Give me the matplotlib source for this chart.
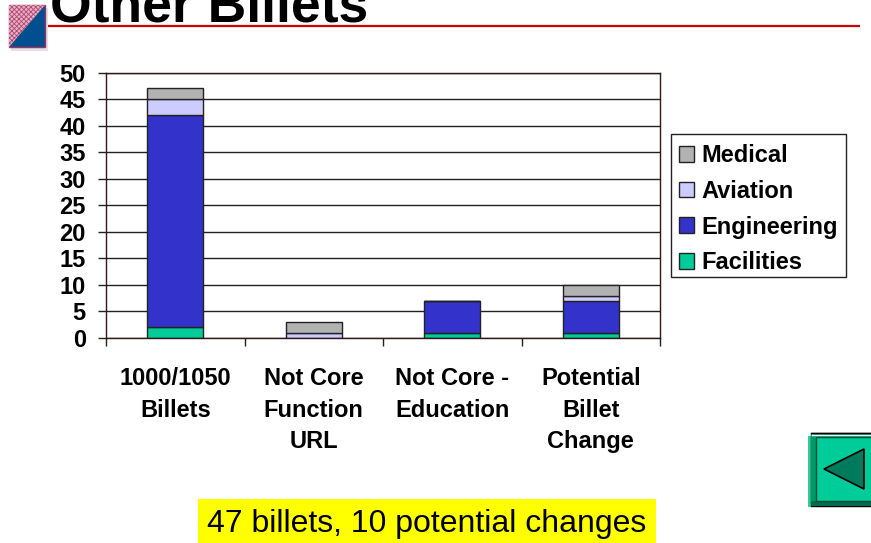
import matplotlib
matplotlib.use('Agg')
import matplotlib.pyplot as plt
from matplotlib.patches import Polygon, Rectangle

plt.rcParams['font.family'] = ['Liberation Sans', 'DejaVu Sans']
plt.rcParams['hatch.linewidth'] = 0.6

W, H = 871, 543

categories = ['1000/1050\nBillets', 'Not Core\nFunction\nURL', 'Not Core -\nEducation', 'Potential\nBillet\nChange']
facilities = [2, 0, 1, 1]
engineering = [40, 0, 6, 6]
aviation = [3, 1, 0, 1]
medical = [2, 2, 0, 2]
series_names = ['Facilities', 'Engineering', 'Aviation', 'Medical']
series_colors = ['#00cc99', '#3333cc', '#ccccff', '#b2b2b2']
y_ticks = list(range(0, 55, 5))

fig = plt.figure(figsize=(W / 100, H / 100), dpi=100)

# full page layer in pixel coordinates for the slide decoration
page = fig.add_axes([0, 0, 1, 1])
page.set_xlim(0, W)
page.set_ylim(H, 0)
page.axis('off')

# title and red rule
page.text(50, 22, 'Other Billets', fontsize=38.5, fontweight='bold', color='black', va='baseline', ha='left')
page.plot([48, 860], [25.5, 25.5], color='#cc0000', lw=1.6, solid_capstyle='butt')

# corner icon
page.add_patch(Rectangle((11, 8), 37, 43, color='#e6e0e6', lw=0))
page.add_patch(Rectangle((9, 5), 36, 42, facecolor='#005090', edgecolor='#a03060', lw=1))
page.add_patch(Polygon([(9, 5), (45, 5), (9, 47)], facecolor='#e8b0c4', edgecolor='#b04870', hatch='xxxxxxx', lw=0))

# back button
page.add_patch(Rectangle((808, 436), 63, 71, color='#33cc99', lw=0))
page.add_patch(Rectangle((811, 433), 60, 73, facecolor='#00cc99', edgecolor='black', lw=1))
page.add_patch(Polygon([(811, 433), (871, 433), (871, 437), (816, 437), (816, 501), (811, 506)], facecolor='#009966', edgecolor='none'))
page.plot([812, 871], [434.5, 434.5], color='white', lw=1)
page.plot([811, 871], [433, 433], color='black', lw=1)
page.add_patch(Rectangle((811, 501), 60, 5, facecolor='#006b50', edgecolor='none'))
page.add_patch(Rectangle((816, 437), 56, 64, facecolor='#00cc99', edgecolor='#004d33', lw=1))
page.add_patch(Polygon([(824, 469), (864, 449), (864, 489)], facecolor='#007a5c', edgecolor='black', lw=1.2))

# yellow note
page.add_patch(Rectangle((198, 499), 458, 44, color='#ffff00', lw=0))
page.text(427, 524, '47 billets, 10 potential changes', fontsize=23, ha='center', va='center', color='black')

# legend box
page.add_patch(Rectangle((671, 134), 175, 143, facecolor='white', edgecolor='#222222', lw=1))

# chart
ax = fig.add_axes([106 / W, 1 - 338 / H, (660 - 106) / W, (338 - 72.5) / H])
ax.patch.set_alpha(0)
ax.set_xlim(-0.5, 3.5)
ax.set_ylim(0, 50)
ax.set_axisbelow(True)
ax.yaxis.grid(True, color='#222222', lw=1)

x = list(range(len(categories)))
bottom = [0] * len(categories)
for vals, name, col in zip([facilities, engineering, aviation, medical], series_names, series_colors):
    ax.bar(x, vals, width=0.404, bottom=bottom, color=col, edgecolor='#222222', lw=1, label=name)
    bottom = [b + v for b, v in zip(bottom, vals)]

for s in ax.spines.values():
    s.set_color('#301818')
    s.set_linewidth(1)

ax.set_yticks(y_ticks)
ax.set_yticklabels([str(t) for t in y_ticks], fontsize=17, fontweight='bold')
ax.tick_params(axis='y', length=6, width=1, color='#222222', pad=8.5)

ax.set_xticks([i - 0.5 for i in range(len(categories) + 1)])
ax.set_xticklabels([])
ax.tick_params(axis='x', which='major', length=6, width=1, color='#222222')
ax.set_xticks(x, minor=True)
ax.set_xticklabels(categories, minor=True, fontsize=17, fontweight='bold', linespacing=1.475)
ax.tick_params(axis='x', which='minor', length=0, pad=21)

handles, labels = ax.get_legend_handles_labels()
leg = ax.legend(handles[::-1], labels[::-1], loc='upper left',
                bbox_to_anchor=((671 - 106) / (660 - 106), (338 - 136) / (338 - 72.5)),
                borderaxespad=0, frameon=False,
                prop={'size': 17, 'weight': 'bold'}, handlelength=0.64, handleheight=0.64,
                handletextpad=0.30, labelspacing=0.54, borderpad=0.34)

fig.savefig('out.png', dpi=100)
